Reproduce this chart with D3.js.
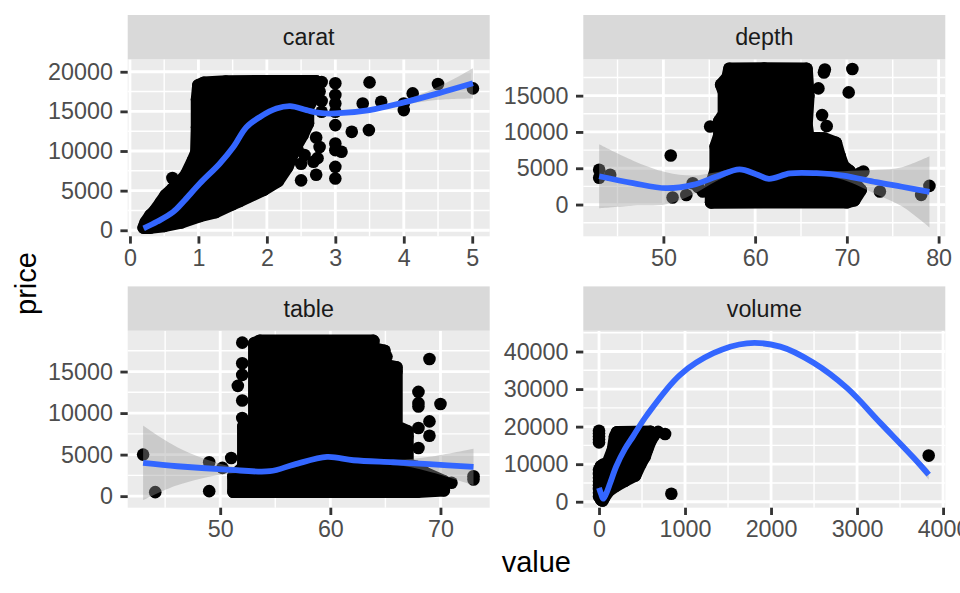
<!DOCTYPE html>
<html>
<head>
<meta charset="utf-8">
<script src="https://cdn.jsdelivr.net/npm/d3@7"></script>
<style>
  body { margin: 0; background: #fff; }
  svg { display: block; }
  text { font-family: "Liberation Sans", Arial, sans-serif; }
</style>
</head>
<body>
<div id="chart"></div>
<script>
/* price vs diamond measures, facet_wrap with free scales */

// facet names
const facets = ["carat", "depth", "table", "volume"];

// tick labels per facet
const caratXTicks = [0, 1, 2, 3, 4, 5];
const caratYTicks = [0, 5000, 10000, 15000, 20000];
const depthXTicks = [50, 60, 70, 80];
const depthYTicks = [0, 5000, 10000, 15000];
const tableXTicks = [50, 60, 70];
const tableYTicks = [0, 5000, 10000, 15000];
const volumeXTicks = [0, 1000, 2000, 3000, 4000];
const volumeYTicks = [0, 10000, 20000, 30000, 40000];

// dense point clouds (outline of overlapping points) [value, price]
const caratCloud = [[0.2, 330], [0.23, 1000], [0.3, 1900], [0.36, 2400], [0.45, 3500], [0.52, 4400],
  [0.62, 5200], [0.75, 6300], [0.82, 7000], [0.92, 8800], [0.97, 9800], [0.98, 13000], [0.98, 16500],
  [1.0, 18300], [1.08, 18600], [1.4, 18750], [2.0, 18800], [2.72, 18780], [2.7, 17000], [2.6, 15500],
  [2.6, 13500], [2.52, 12000], [2.42, 10500], [2.3, 8000], [2.16, 6200], [1.95, 5100], [1.6, 3700],
  [1.5, 3300], [1.25, 2300], [1.02, 1800], [0.75, 1000], [0.5, 550], [0.3, 340]];
const depthCloud = [[55.2, 300], [55.2, 2700], [55.7, 4700], [55.7, 8000], [56.1, 9500], [56.1, 11500],
  [56.6, 12500], [56.6, 15500], [56.3, 16500], [57.0, 17500], [57.2, 18700], [61, 18750], [65.6, 18700],
  [65.8, 15000], [65.6, 11000], [65.8, 9200], [67.5, 9100], [68.8, 8500], [69.2, 6700], [69.6, 5300],
  [70.3, 4600], [70.8, 3000], [71.5, 2000], [70.8, 600], [70, 320]];
const tableCloud = [[51.2, 530], [51.2, 2400], [52.1, 3500], [52.1, 8400], [53.1, 9000], [53.1, 18400],
  [53.6, 18700], [63.9, 18700], [63.9, 17800], [64.9, 17500], [64.9, 15800], [66.0, 15500], [66.0, 8400],
  [67.0, 7800], [67.0, 3800], [67.9, 3500], [68.6, 2800], [70.3, 1800], [70.3, 700], [67.9, 530]];
const volumeCloud = [[23, 600], [23, 9450], [105, 10430], [163, 13890], [186, 17340], [210, 18500],
  [600, 18600], [640, 17800], [600, 16300], [560, 14000], [530, 12000], [480, 10000], [420, 7000],
  [300, 5600], [200, 4300], [116, 3000], [60, 1200], [40, 330]];

// scattered points outside the clouds [value, price]
const caratPoints = [[0.62, 6600], [2.5, 6300], [2.72, 7000], [2.5, 8400], [2.68, 8650], [2.77, 10500],
  [2.72, 11700], [2.45, 10100], [2.55, 9500], [2.74, 9100], [2.8, 18700], [2.77, 17500], [2.8, 16300],
  [2.8, 14950], [3.0, 18540], [3.0, 17060], [3.0, 16000], [3.0, 14950], [3.0, 13270], [3.0, 10950],
  [3.0, 10110], [3.09, 9900], [3.0, 8000], [3.0, 6530], [3.24, 12420], [3.4, 16000], [3.5, 18660],
  [3.49, 12640], [3.67, 16210], [4.0, 16000], [4.0, 15160], [4.13, 17270], [4.5, 18450], [5.01, 17900]];
const depthPoints = [[43.0, 4800], [43.0, 3700], [44.2, 4100], [50.8, 6760], [51.0, 970], [53.2, 2940],
  [52.5, 1320], [53.8, 2400], [54.3, 1800], [55.1, 10760], [67.3, 12320], [67.8, 10800], [66.9, 16000],
  [67.5, 18200], [67.6, 18600], [70.6, 18670], [70.2, 15450], [71.8, 4550], [71.4, 4300], [73.6, 1790],
  [78.1, 1330], [79.0, 2570]];
const tablePoints = [[52.0, 18480], [52.0, 16000], [52.0, 14600], [51.6, 13280], [52.0, 11520],
  [52.0, 9400], [51.0, 4600], [43.0, 5000], [44.1, 480], [49.0, 600], [49.0, 4080], [50.2, 3400],
  [65.1, 16800], [66.0, 15000], [69.0, 16520], [70.0, 11090], [68.0, 12550], [68.0, 11200], [68.0, 10800],
  [69.0, 9000], [69.0, 7280], [68.0, 8200], [67.0, 7200], [68.0, 5800], [71.0, 1610], [73.0, 2400],
  [73.0, 2000]];
const volumePoints = [[0, 18900], [0, 18200], [0, 17400], [0, 16600], [0, 15800], [0, 8500], [0, 7400],
  [0, 6400], [0, 5400], [0, 4400], [0, 3400], [0, 2400], [0, 1400], [50, 9900], [687, 18600],
  [768, 18050], [841, 2120], [3833, 12290]];

// smoothed fit: x, fitted price, half width of the band
const caratSmoothX = [0.2, 0.4, 0.63, 0.8, 1.02, 1.31, 1.51, 1.7, 1.9, 2.14, 2.34, 2.58, 2.77, 3.0, 3.5, 4.0, 4.5, 5.01];
const caratSmoothY = [250, 1100, 2300, 3800, 5900, 8400, 10500, 13000, 14300, 15350, 15650, 15150, 14800, 14740, 15160, 16130, 17270, 18540];
const caratSmoothSe = [150, 100, 100, 100, 100, 100, 100, 100, 100, 100, 100, 100, 120, 150, 200, 300, 800, 1900];
const depthSmoothX = [43, 46.7, 50.3, 53.2, 55.8, 58.3, 60.1, 61.5, 63.8, 66.7, 69.6, 73.2, 76, 79];
const depthSmoothY = [3900, 2950, 2250, 2700, 3850, 4850, 4180, 3550, 4300, 4320, 4000, 3080, 2450, 1750];
const depthSmoothSe = [4400, 3100, 2200, 1300, 600, 250, 150, 150, 150, 250, 600, 1700, 2700, 4900];
const tableSmoothX = [43, 46.1, 50.6, 54.5, 56.7, 59.7, 62.1, 65.7, 69, 73];
const tableSmoothY = [4000, 3600, 3200, 3000, 3800, 4720, 4320, 4080, 3850, 3520];
const tableSmoothSe = [4500, 2300, 500, 200, 150, 150, 150, 250, 900, 2200];
const volumeSmoothX = [0, 25, 48, 80, 130, 201, 300, 396, 555, 943, 1330, 1719, 2107, 2494, 2882, 3270, 3658, 3833];
const volumeSmoothY = [3700, 2000, 800, 2000, 5000, 9450, 14000, 17420, 23000, 33800, 39560, 42200, 41300, 37000, 30300, 21000, 11700, 7200];
const volumeSmoothSe = [400, 300, 300, 300, 300, 300, 300, 300, 300, 300, 300, 300, 300, 350, 450, 600, 1000, 1300];

const width = 960, height = 593;
const panelW = 362, panelH = 177, stripH = 44.3;
const colX = [127.7, 583.3], rowY = [59.3, 330.7];
const ptR = 6.3;

const panels = [
  { name: facets[0], col: 0, row: 0, xDomain: [-0.033, 5.255], yDomain: [-760, 21570],
    xTicks: caratXTicks, yTicks: caratYTicks, cloud: caratCloud, points: caratPoints,
    sx: caratSmoothX, sy: caratSmoothY, se: caratSmoothSe },
  { name: facets[1], col: 1, row: 0, xDomain: [41.27, 80.73], yDomain: [-4374, 20009],
    xTicks: depthXTicks, yTicks: depthYTicks, cloud: depthCloud, points: depthPoints,
    sx: depthSmoothX, sy: depthSmoothY, se: depthSmoothSe },
  { name: facets[2], col: 0, row: 1, xDomain: [41.6, 74.47], yDomain: [-1392, 19920],
    xTicks: tableXTicks, yTicks: tableYTicks, cloud: tableCloud, points: tablePoints,
    sx: tableSmoothX, sy: tableSmoothY, se: tableSmoothSe },
  { name: facets[3], col: 1, row: 1, xDomain: [-182.7, 4026], yDomain: [-1593, 45550],
    xTicks: volumeXTicks, yTicks: volumeYTicks, cloud: volumeCloud, points: volumePoints,
    sx: volumeSmoothX, sy: volumeSmoothY, se: volumeSmoothSe }
];

const svg = d3.select("#chart")
  .append("svg")
  .attr("width", width)
  .attr("height", height)
  .attr("viewBox", [0, 0, width, height]);

// minor breaks halfway between majors, one step past each end too
function minorBreaks(ticks, domain) {
  const step = ticks[1] - ticks[0];
  const out = [];
  for (let v = ticks[0] - step / 2; v <= ticks[ticks.length - 1] + step; v += step) {
    if (v >= domain[0] && v <= domain[1]) out.push(v);
  }
  return out;
}

panels.forEach((p, i) => {
  const g = svg.append("g")
    .attr("transform", `translate(${colX[p.col]},${rowY[p.row]})`);

  const x = d3.scaleLinear().domain(p.xDomain).range([0, panelW]);
  const y = d3.scaleLinear().domain(p.yDomain).range([panelH, 0]);

  g.append("rect")
    .attr("width", panelW)
    .attr("height", panelH)
    .attr("fill", "#EBEBEB");

  // grid
  g.selectAll(".minor-x").data(minorBreaks(p.xTicks, p.xDomain)).join("line")
    .attr("x1", d => x(d)).attr("x2", d => x(d)).attr("y1", 0).attr("y2", panelH)
    .attr("stroke", "#fff").attr("stroke-width", 1.42);
  g.selectAll(".minor-y").data(minorBreaks(p.yTicks, p.yDomain)).join("line")
    .attr("y1", d => y(d)).attr("y2", d => y(d)).attr("x1", 0).attr("x2", panelW)
    .attr("stroke", "#fff").attr("stroke-width", 1.42);
  g.selectAll(".major-x").data(p.xTicks).join("line")
    .attr("x1", d => x(d)).attr("x2", d => x(d)).attr("y1", 0).attr("y2", panelH)
    .attr("stroke", "#fff").attr("stroke-width", 2.83);
  g.selectAll(".major-y").data(p.yTicks).join("line")
    .attr("y1", d => y(d)).attr("y2", d => y(d)).attr("x1", 0).attr("x2", panelW)
    .attr("stroke", "#fff").attr("stroke-width", 2.83);

  const clipId = "clip" + i;
  g.append("clipPath").attr("id", clipId)
    .append("rect").attr("width", panelW).attr("height", panelH);
  const body = g.append("g").attr("clip-path", `url(#${clipId})`);

  // dense cloud: outline of the point centres, stroked with the point diameter
  const cloudLine = d3.line()
    .x(d => x(d[0]))
    .y(d => y(d[1]))
    .curve(d3.curveLinearClosed);
  body.append("path")
    .datum(p.cloud)
    .attr("d", cloudLine)
    .attr("fill", "#000")
    .attr("stroke", "#000")
    .attr("stroke-width", ptR * 2)
    .attr("stroke-linejoin", "round");

  // a dot on every outline corner, gives the lumpy edge of the cloud
  body.selectAll("circle.edge").data(p.cloud).join("circle")
    .attr("class", "edge")
    .attr("cx", d => x(d[0]))
    .attr("cy", d => y(d[1]))
    .attr("r", ptR)
    .attr("fill", "#000");

  body.selectAll("circle.pt").data(p.points).join("circle")
    .attr("class", "pt")
    .attr("cx", d => x(d[0]))
    .attr("cy", d => y(d[1]))
    .attr("r", ptR)
    .attr("fill", "#000");

  const fit = p.sx.map((v, k) => ({ x: v, y: p.sy[k], se: p.se[k] }));

  const band = d3.area()
    .x(d => x(d.x))
    .y0(d => y(d.y - d.se))
    .y1(d => y(d.y + d.se))
    .curve(d3.curveCatmullRom.alpha(0.5));
  body.append("path")
    .datum(fit)
    .attr("d", band)
    .attr("fill", "#999999")
    .attr("fill-opacity", 0.4);

  const line = d3.line()
    .x(d => x(d.x))
    .y(d => y(d.y))
    .curve(d3.curveCatmullRom.alpha(0.5));
  body.append("path")
    .datum(fit)
    .attr("d", line)
    .attr("fill", "none")
    .attr("stroke", "#3366FF")
    .attr("stroke-width", 5.8);

  // strip
  g.append("rect")
    .attr("y", -stripH)
    .attr("width", panelW)
    .attr("height", stripH)
    .attr("fill", "#D9D9D9");
  g.append("text")
    .attr("x", panelW / 2)
    .attr("y", -stripH / 2)
    .attr("dy", "0.35em")
    .attr("text-anchor", "middle")
    .attr("font-size", 23.3)
    .attr("fill", "#1A1A1A")
    .text(p.name);

  // axes
  const xAxis = g.append("g")
    .attr("transform", `translate(0,${panelH})`)
    .call(d3.axisBottom(x).tickValues(p.xTicks).tickFormat(d3.format("d"))
      .tickSize(7.3).tickPadding(5.8).tickSizeOuter(0));
  const yAxis = g.append("g")
    .call(d3.axisLeft(y).tickValues(p.yTicks).tickFormat(d3.format("d"))
      .tickSize(7.3).tickPadding(7.5).tickSizeOuter(0));

  [xAxis, yAxis].forEach(a => {
    a.select(".domain").remove();
    a.selectAll(".tick line").attr("stroke", "#333333").attr("stroke-width", 2.83);
    a.selectAll(".tick text")
      .attr("fill", "#4D4D4D")
      .attr("font-size", 23.3)
      .attr("font-family", "Liberation Sans, Arial, sans-serif");
  });
});

svg.append("text")
  .attr("transform", "translate(36,283.5) rotate(-90)")
  .attr("text-anchor", "middle")
  .attr("font-size", 29)
  .attr("fill", "#000")
  .text("price");

svg.append("text")
  .attr("x", 536.3)
  .attr("y", 571.7)
  .attr("text-anchor", "middle")
  .attr("font-size", 29)
  .attr("fill", "#000")
  .text("value");
</script>
</body>
</html>
